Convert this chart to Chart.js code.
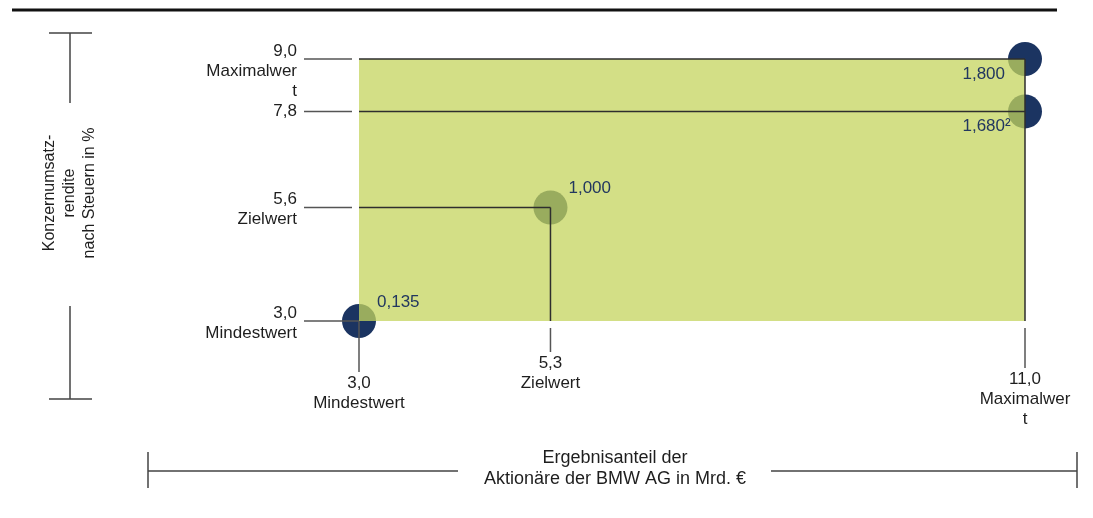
<!DOCTYPE html>
<html>
<head>
<meta charset="utf-8">
<script src="https://cdn.jsdelivr.net/npm/chart.js@4/dist/chart.umd.min.js"></script>
<style>
  html, body { margin: 0; padding: 0; background: #fff; }
  #wrap { position: relative; width: 1093px; height: 518px; }
</style>
</head>
<body>
<div id="wrap"><canvas id="c" width="1093" height="518"></canvas></div>
<script>
// Zielgrößen: Ergebnisanteil der Aktionäre (x) und Konzernumsatzrendite (y)
const xTicks = [3.0, 5.3, 11.0];
const xTickLabels = [['3,0', 'Mindestwert'], ['5,3', 'Zielwert'], ['11,0', 'Maximalwer', 't']];
const yTicks = [3.0, 5.6, 7.8, 9.0];
const yTickLabels = [['3,0', 'Mindestwert'], ['5,6', 'Zielwert'], ['7,8'], ['9,0', 'Maximalwer', 't']];

// Eckpunkte mit Faktor
const pointX = [3.0, 5.3, 11.0, 11.0];
const pointY = [3.0, 5.6, 7.8, 9.0];
const pointLabels = ['0,135', '1,000', '1,680²', '1,800'];

const yTitle = ['Konzernumsatz-', 'rendite', 'nach Steuern in %'];
const xTitle = ['Ergebnisanteil der', 'Aktionäre der BMW AG in Mrd. €'];

// Darstellung
const FONT = '"Liberation Sans", Arial, sans-serif';
const NAVY = '#1b3461';
const AREA = 'rgba(196, 212, 94, 0.75)';
const LINE = '#2e2e2e';
const TEXT = '#1e1e1e';
const xTickLen = [51, 31, 47];

const decor = {
  id: 'decor',
  beforeDraw(chart) {
    const ctx = chart.ctx;
    ctx.save();
    // Kopflinie
    ctx.fillStyle = '#111';
    ctx.fillRect(12, 8.5, 1045, 3);

    ctx.strokeStyle = '#444';
    ctx.lineWidth = 1.5;
    // Klammer links
    ctx.beginPath();
    ctx.moveTo(49, 33); ctx.lineTo(92, 33);
    ctx.moveTo(70, 33); ctx.lineTo(70, 103);
    ctx.moveTo(70, 306); ctx.lineTo(70, 399);
    ctx.moveTo(49, 399); ctx.lineTo(92, 399);
    // Klammer unten
    ctx.moveTo(148, 452); ctx.lineTo(148, 488);
    ctx.moveTo(148, 471); ctx.lineTo(458, 471);
    ctx.moveTo(771, 471); ctx.lineTo(1077, 471);
    ctx.moveTo(1077, 452); ctx.lineTo(1077, 488);
    ctx.stroke();

    ctx.fillStyle = TEXT;
    ctx.textAlign = 'center';
    ctx.textBaseline = 'middle';
    // Achsentitel unten
    ctx.font = '18px ' + FONT;
    xTitle.forEach((t, i) => ctx.fillText(t, 615, 458 + i * 21));

    // Achsentitel links, gedreht
    ctx.font = '16px ' + FONT;
    ctx.translate(70, 193);
    ctx.rotate(-Math.PI / 2);
    yTitle.forEach((t, i) => ctx.fillText(t, 0, (i - 1) * 20));
    ctx.restore();
  },
  afterDatasetsDraw(chart) {
    const ctx = chart.ctx;
    const xs = chart.scales.x, ys = chart.scales.y;
    const area = chart.chartArea;
    ctx.save();

    // Zielkorridor
    ctx.fillStyle = AREA;
    ctx.fillRect(area.left, area.top, area.right - area.left, area.bottom - area.top);

    // Hilfslinien von den Punkten zu den Achsen
    ctx.strokeStyle = LINE;
    ctx.lineWidth = 1.5;
    ctx.beginPath();
    pointX.forEach((x, i) => {
      const px = xs.getPixelForValue(x), py = ys.getPixelForValue(pointY[i]);
      if (px > area.left + 1) {
        ctx.moveTo(area.left, py); ctx.lineTo(px, py);
        ctx.moveTo(px, py); ctx.lineTo(px, area.bottom);
      }
    });
    ctx.stroke();

    // Skalenstriche und Beschriftung y
    ctx.font = '17px ' + FONT;
    ctx.fillStyle = TEXT;
    ctx.textBaseline = 'middle';
    ctx.strokeStyle = '#555';
    yTicks.forEach((v, i) => {
      const py = ys.getPixelForValue(v);
      const isMin = v === ys.min;
      ctx.beginPath();
      ctx.moveTo(area.left - 55, py);
      ctx.lineTo(isMin ? area.left : area.left - 7, py);
      ctx.stroke();
      const lines = yTickLabels[i];
      ctx.textAlign = 'right';
      const start = lines.length > 1 ? -8 : 0;
      lines.forEach((t, k) => ctx.fillText(t, area.left - 62, py + start + k * 20));
    });

    // Skalenstriche und Beschriftung x
    xTicks.forEach((v, i) => {
      const px = xs.getPixelForValue(v);
      const isMin = v === xs.min;
      const y0 = isMin ? area.bottom : area.bottom + 7;
      const y1 = area.bottom + xTickLen[i];
      ctx.beginPath();
      ctx.moveTo(px, y0); ctx.lineTo(px, y1);
      ctx.stroke();
      ctx.textAlign = 'center';
      xTickLabels[i].forEach((t, k) => ctx.fillText(t, px, y1 + 11 + k * 20));
    });

    // Faktoren an den Punkten
    ctx.fillStyle = '#22375f';
    ctx.textAlign = 'left';
    pointX.forEach((x, i) => {
      const px = xs.getPixelForValue(x), py = ys.getPixelForValue(pointY[i]);
      const label = pointLabels[i];
      if (x === xs.max) {
        // Ziffern enden links neben dem Punkt, Fußnotenzeichen ragt hinein
        const digits = label.replace('²', '');
        const w = ctx.measureText(digits).width;
        ctx.fillText(label, px - 20 - w, py + 15);
      } else {
        ctx.fillText(label, px + 18, py - 19);
      }
    });
    ctx.restore();
  }
};

new Chart(document.getElementById('c'), {
  type: 'scatter',
  data: {
    datasets: [{
      data: pointX.map((x, i) => ({ x, y: pointY[i] })),
      backgroundColor: NAVY,
      borderWidth: 0,
      pointRadius: 17,
      pointHoverRadius: 17,
      clip: false
    }]
  },
  options: {
    responsive: false,
    animation: false,
    events: [],
    layout: { padding: { left: 359, right: 68, top: 59, bottom: 197 } },
    scales: {
      x: { type: 'linear', min: 3, max: 11, display: false },
      y: { type: 'linear', min: 3, max: 9, display: false }
    },
    plugins: { legend: { display: false }, tooltip: { enabled: false } }
  },
  plugins: [decor]
});
</script>
</body>
</html>
